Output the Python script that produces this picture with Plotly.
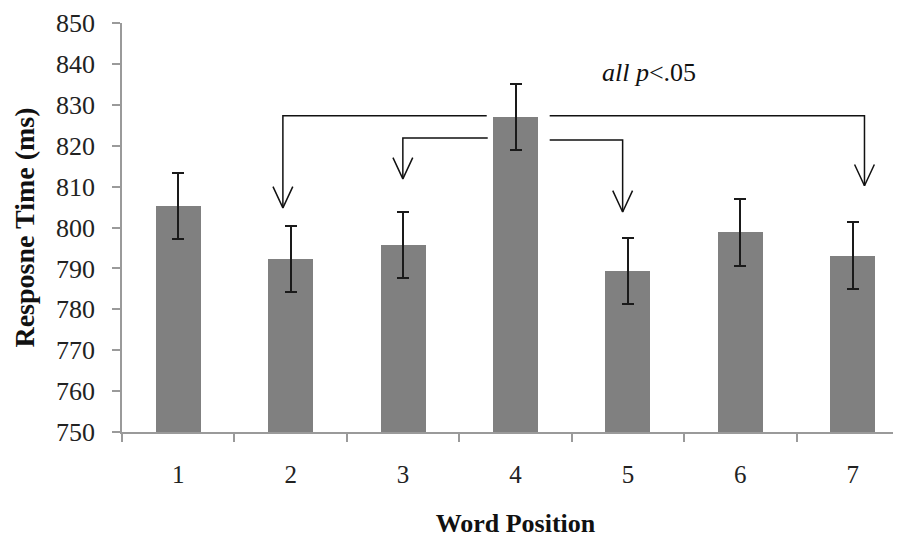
import plotly.graph_objects as go

# ---- data ----
positions = [1, 2, 3, 4, 5, 6, 7]
position_labels = ["1", "2", "3", "4", "5", "6", "7"]
response_time = [805.3, 792.3, 795.7, 827.0, 789.3, 798.8, 793.1]
error_ms = [8.0, 8.1, 8.1, 8.0, 8.1, 8.2, 8.2]

y_ticks = [750, 760, 770, 780, 790, 800, 810, 820, 830, 840, 850]

# significance brackets: from word position 4 to each target
bracket_from = [3.744, 3.753, 4.304, 4.304]
bracket_to = [1.931, 2.998, 4.953, 7.104]
bracket_level = [827.3, 821.9, 821.4, 827.3]
bracket_tip = [804.8, 811.9, 803.8, 810.2]
sig_label = "<i>all p</i>&lt;.05"

FONT = "Liberation Serif"
AX = "#9a9a9a"

fig = go.Figure()

fig.add_trace(go.Bar(
    x=positions, y=[v - 750 for v in response_time], base=750,
    width=0.4, marker=dict(color="#808080", line=dict(width=0)),
    error_y=dict(type="data", array=error_ms, visible=True,
                 color="#1a1a1a", thickness=2, width=6),
    showlegend=False, hoverinfo="skip",
))

# brackets with open arrowheads
head_dx = 0.088
head_dy = 5.2
for x0, x1, lvl, tip in zip(bracket_from, bracket_to, bracket_level, bracket_tip):
    fig.add_trace(go.Scatter(
        x=[x0, x1, x1], y=[lvl, lvl, tip], mode="lines",
        line=dict(color="#111111", width=1.5), showlegend=False,
        hoverinfo="skip", cliponaxis=False,
    ))
    fig.add_trace(go.Scatter(
        x=[x1 - head_dx, x1, x1 + head_dx], y=[tip + head_dy, tip, tip + head_dy],
        mode="lines", line=dict(color="#111111", width=1.5), showlegend=False,
        hoverinfo="skip", cliponaxis=False,
    ))

fig.add_annotation(x=5.19, y=837.8, text=sig_label, showarrow=False,
                   font=dict(family=FONT, size=26, color="#111111"),
                   xanchor="center", yanchor="middle")

# the page places the figure 8px in from the top-left corner
fig.update_layout(
    width=901, height=539,
    margin=dict(l=114, r=0, t=15, b=115),
    plot_bgcolor="white", paper_bgcolor="white",
    font=dict(family=FONT, color="#222222"),
    bargap=0,
)

fig.update_xaxes(
    range=[0.5, 7.5], automargin=False,
    tickmode="array", tickvals=positions, ticktext=position_labels,
    ticks="", tickfont=dict(family=FONT, size=25, color="#222222"),
    ticklabelstandoff=19,
    minor=dict(tickmode="array", tickvals=[p - 0.5 for p in positions],
               ticks="outside", ticklen=8, tickcolor=AX, tickwidth=1.5),
    showline=True, linecolor=AX, linewidth=1.5,
    showgrid=False, zeroline=False,
    title=dict(text="<b>Word Position</b>", standoff=27,
               font=dict(family=FONT, size=26, color="#111111")),
)

fig.update_yaxes(
    range=[750, 850], tickmode="array", tickvals=y_ticks, automargin=False,
    ticks="outside", ticklen=8, tickcolor=AX, tickwidth=1.5,
    tickfont=dict(family=FONT, size=26, color="#222222"),
    ticklabelstandoff=12,
    showline=True, linecolor=AX, linewidth=1.5,
    showgrid=False, zeroline=False,
    title=dict(text="<b>Resposne Time (ms)</b>", standoff=13,
               font=dict(family=FONT, size=28, color="#111111")),
)

fig.write_html("out.html")
